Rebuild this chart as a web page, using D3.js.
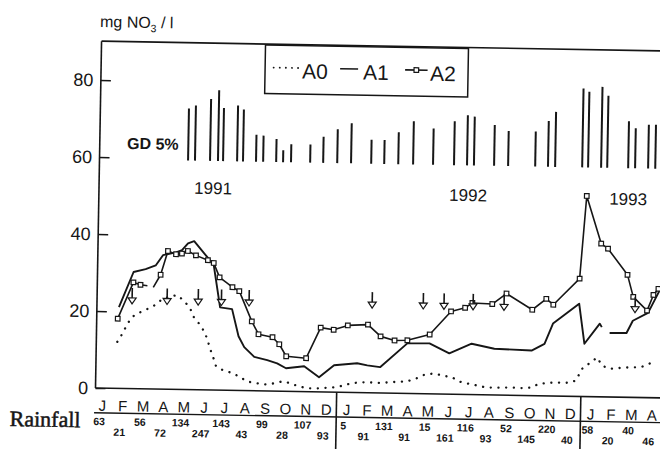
<!DOCTYPE html>
<html><head><meta charset="utf-8">
<script src="https://cdn.jsdelivr.net/npm/d3@7"></script>
<style>body{margin:0;background:#fff}svg{display:block}</style>
</head><body>
<svg id="c" width="660" height="449"></svg>
<script>
// ---------- data ----------
const months = ["J","F","M","A","M","J","J","A","S","O","N","D",
                "J","F","M","A","M","J","J","A","S","O","N","D",
                "J","F","M","A"];
const rainfall = [63,21,56,72,134,247,143,43,99,28,107,93,
                  5,91,131,91,15,161,116,93,52,145,220,40,
                  58,20,40,46];
const yTicks = [0,20,40,60,80];
const years = ["1991","1992","1993"];
const seriesNames = ["A0","A1","A2"];

// [month since Jan 1991, mg NO3/l]; null = gap
const a0 = [[1.18,12.1],[1.43,14.3],[1.63,16.5],[1.87,18.6],[2.21,19.7],[2.61,20.7],[3.0,21.8],[3.35,23.4],
  [3.74,24.1],[4.08,24.5],[4.43,23.0],[4.72,21.2],[4.92,18.8],[5.21,17.0],[5.46,15.0],[5.61,13.0],[5.75,10.6],
  [5.9,8.6],[6.05,6.2],[6.39,5.2],[6.79,4.6],[7.18,3.7],[7.58,2.4],[8.02,2.0],[8.51,1.7],[8.9,2.0],[9.34,2.6],
  [9.73,2.1],[10.13,1.3],[10.62,0.9],[11.01,0.9],[11.46,1.1],[11.95,1.3],[12.34,1.8],[12.73,2.4],[13.18,2.7],
  [13.57,2.7],[14.11,2.6],[14.55,2.8],[15.04,3.0],[15.43,3.1],[15.88,3.9],[16.32,5.0],[16.76,5.3],[17.2,4.8],
  [17.65,4.4],[18.04,3.3],[18.48,2.8],[18.87,2.4],[19.36,1.9],[19.85,1.9],[20.55,2.0],[21.18,1.9],[21.58,2.1],
  [21.92,3.1],[22.66,3.5],[23.4,3.5],[23.74,4.1],[24.04,7.2],[24.43,8.8],[24.77,10.2],[25.02,8.1],[25.41,7.3],
  [26.1,7.7],[26.94,7.9],[27.33,8.8],[27.67,9.6]];
const a1 = [[1.23,21.1],[1.92,30.3],[2.51,31.1],[3.0,32.1],[3.35,34.8],[3.99,35.6],[4.28,36.2],[4.57,38.0],
  [4.87,38.6],[5.56,34.3],[5.85,32.5],[6.2,21.5],[6.79,21.1],[7.13,14.1],[7.42,11.3],[7.92,8.8],[8.56,8.0],
  [9.05,7.2],[9.49,6.0],[10.38,6.6],[11.12,3.8],[11.85,7.0],[12.98,7.6],[13.48,7.1],[14.11,6.7],[15.43,13.0],
  [16.52,13.1],[17.5,10.6],[18.59,13.2],[19.71,12.0],[21.54,11.7],[22.17,13.5],[22.57,18.8],[23.84,24.1],
  [24.13,13.7],[24.87,19.0],[24.97,18.1],[25.15,null],[25.36,16.6],[26.19,16.7],[26.49,19.9],[27.23,22.0],[27.82,28.3]];
const a2 = [[1.18,18.1],[1.92,27.6],[2.27,27.0],[2.61,26.8],[2.75,null],[2.90,26.4],[3.25,29.7],[3.59,35.9],
  [3.99,35.1],[4.28,35.3],[4.57,36.0],[4.97,34.9],[5.56,33.7],[5.85,33.0],[6.15,29.3],[6.79,26.8],[7.13,25.8],
  [7.77,18.0],[8.11,14.7],[8.80,14.0],[9.14,12.2],[9.49,9.1],[10.47,8.7],[11.16,16.7],[11.80,16.2],[12.49,17.4],
  [13.48,17.7],[14.11,14.7],[14.80,13.7],[15.43,13.8],[16.52,15.4],[17.55,21.5],[18.24,22.5],[18.59,23.8],
  [19.57,23.6],[20.26,26.4],[21.54,22.3],[22.22,25.2],[22.57,23.7],[23.84,30.6],[24.12,52.1],[24.87,39.8],
  [25.21,38.5],[26.19,31.8],[26.49,26.1],[27.18,22.6],[27.48,26.7],[27.72,28.3]];
const a2Unmarked = [2.61, 2.90];
// GD 5%: [month, length]
const gd = [[4.50,13.5],[4.84,14.3],[5.58,16.1],[5.97,18.4],[6.22,13.8],[6.91,14.5],[7.2,13.5],[7.84,7.0],
  [8.19,6.8],[8.83,6.0],[9.17,3.1],[9.56,4.7],[10.5,4.7],[11.14,6.8],[11.83,8.8],[12.51,10.4],[13.5,6.2],
  [14.14,6.2],[14.83,8.3],[15.56,11.2],[16.54,9.4],[17.57,11.4],[18.21,13.0],[18.55,12.7],[19.54,10.6],
  [20.23,9.1],[21.56,9.1],[22.19,11.9],[22.54,14.3],[23.87,20.5],[24.16,19.7],[24.8,21.0],[25.1,18.7],
  [26.13,12.2],[26.47,10.4],[27.11,11.4],[27.46,11.4]];
const gdBase = 59.5;
// fertilizer arrows: month of application
const arrows = [1.87,3.59,5.12,6.26,7.62,13.67,16.18,17.2,18.63,20.15,26.59];
const arrowTip = 22;

// ---------- drawing ----------
const ink = "#161616";
const SANS = "'Liberation Sans', Arial, Helvetica, sans-serif";
const svg = d3.select("#c");
svg.append("rect").attr("width",660).attr("height",449).attr("fill","#fff");
const g = svg.append("g").attr("transform","rotate(1.0,95.5,388)");

const x = d3.scaleLinear().domain([0,28]).range([92.5, 92.5 + 28*20.35]);
const y = d3.scaleLinear().domain([0,80]).range([388,80]);
const xL = 95.5, xR = 740;

// frame
g.append("line").attr("x1",xL).attr("x2",xR).attr("y1",y(90.1)).attr("y2",y(90.1))
  .attr("stroke",ink).attr("stroke-width",1.6);
g.append("line").attr("x1",xL).attr("x2",xL).attr("y1",y(90.1)).attr("y2",y(0))
  .attr("stroke",ink).attr("stroke-width",1.6);
g.append("line").attr("x1",xL).attr("x2",xR).attr("y1",y(0)).attr("y2",y(0))
  .attr("stroke",ink).attr("stroke-width",1.6);

// y axis
const ya = g.append("g").attr("transform",`translate(${xL},0)`)
  .call(d3.axisLeft(y).tickValues(yTicks).tickSizeInner(-10).tickSizeOuter(0).tickPadding(7.5).tickFormat(d3.format("d")));
ya.select(".domain").remove();
ya.attr("font-size",18).attr("font-family",SANS);
ya.selectAll("text").attr("fill",ink);
ya.selectAll("line").attr("stroke",ink).attr("stroke-width",1.4);

// unit label
const ut = g.append("text").attr("x",93.7).attr("y",27).attr("font-size",16).attr("font-family",SANS).attr("fill",ink);
ut.append("tspan").text("mg NO");
ut.append("tspan").attr("dy",4).attr("font-size",10.5).text("3");
ut.append("tspan").attr("dy",-4).text(" / l");

// month row
g.selectAll(".mon").data(months).join("text").attr("class","mon")
  .attr("x",(d,i)=>x(i+0.5)).attr("y",410.8).attr("text-anchor","middle")
  .attr("font-size",15).attr("font-family",SANS).attr("fill",ink).text(d=>d);
g.append("line").attr("x1",xL-1).attr("x2",xR).attr("y1",412.8).attr("y2",412.8)
  .attr("stroke",ink).attr("stroke-width",1.4);
[12,24].forEach(m=>{
  g.append("line").attr("x1",x(m)).attr("x2",x(m)).attr("y1",y(0)).attr("y2",470)
    .attr("stroke",ink).attr("stroke-width",1.6);
});
g.selectAll(".rain").data(rainfall).join("text").attr("class","rain")
  .attr("x",(d,i)=>x(i+0.5)-3).attr("y",(d,i)=>i%2===0?425:435.5).attr("text-anchor","middle")
  .attr("font-size",10.5).attr("font-weight","bold").attr("font-family",SANS).attr("fill",ink).text(d=>d);
g.append("text").attr("x",10.2).attr("y",427.5).attr("font-size",22)
  .attr("stroke",ink).attr("stroke-width",0.5)
  .attr("font-family","'Liberation Serif', 'Times New Roman', serif").attr("fill",ink).text("Rainfall");

// GD bars
g.selectAll(".gd").data(gd).join("line").attr("class","gd")
  .attr("x1",d=>x(d[0])).attr("x2",d=>x(d[0])).attr("y1",y(gdBase)).attr("y2",d=>y(gdBase+d[1]))
  .attr("stroke",ink).attr("stroke-width",2);
g.append("text").attr("x",122.8).attr("y",148.4).attr("font-size",16).attr("font-weight","bold")
  .attr("font-family",SANS).attr("fill",ink).text("GD 5%");

// year labels
const yearPos = [[209.6,192],[464.7,194.5],[624.8,195.7]];
g.selectAll(".yr").data(years).join("text").attr("class","yr")
  .attr("x",(d,i)=>yearPos[i][0]).attr("y",(d,i)=>yearPos[i][1]).attr("text-anchor","middle")
  .attr("font-size",17).attr("font-family",SANS).attr("fill",ink).text(d=>d);

// series
const line = d3.line().defined(d=>d[1]!=null).x(d=>x(d[0])).y(d=>y(d[1]));
g.append("path").attr("d",line(a0)).attr("fill","none").attr("stroke",ink)
  .attr("stroke-width",2.3).attr("stroke-linecap","round").attr("stroke-dasharray","0.1,7.6");
g.append("path").attr("d",line(a1)).attr("fill","none").attr("stroke",ink)
  .attr("stroke-width",1.9).attr("stroke-linejoin","round");
g.append("path").attr("d",line(a2)).attr("fill","none").attr("stroke",ink)
  .attr("stroke-width",1.6).attr("stroke-linejoin","round");
g.selectAll(".mk").data(a2.filter(d=>d[1]!=null && !a2Unmarked.includes(d[0]))).join("rect").attr("class","mk")
  .attr("x",d=>x(d[0])-2.3).attr("y",d=>y(d[1])-2.3).attr("width",4.6).attr("height",4.6)
  .attr("fill","#fff").attr("stroke",ink).attr("stroke-width",1.2);

// arrows
arrows.forEach(m=>{
  const ax = x(m), ty = y(arrowTip);
  g.append("line").attr("x1",ax).attr("x2",ax).attr("y1",ty-16).attr("y2",ty-6)
    .attr("stroke",ink).attr("stroke-width",1.6);
  g.append("path").attr("d",`M${ax-4},${ty-6}L${ax+4},${ty-6}L${ax},${ty}Z`)
    .attr("fill","#fff").attr("stroke",ink).attr("stroke-width",1.2);
});

// legend
const lg = g.append("g");
lg.append("rect").attr("x",259.5).attr("y",42).attr("width",203).attr("height",48.5)
  .attr("fill","#fff").attr("stroke",ink).attr("stroke-width",1.5);
const legItems = [
  {name:seriesNames[0], lx1:268, lx2:293, tx:296.7, style:"dot"},
  {name:seriesNames[1], lx1:334.5, lx2:352.5, tx:357.6, style:"solid"},
  {name:seriesNames[2], lx1:399.5, lx2:422, tx:424.5, style:"mark"}
];
legItems.forEach(it=>{
  const ly = 64.5;
  const p = lg.append("line").attr("x1",it.lx1).attr("x2",it.lx2).attr("y1",ly).attr("y2",ly).attr("stroke",ink);
  if(it.style==="dot") p.attr("stroke-width",1.8).attr("stroke-linecap","round").attr("stroke-dasharray","0.1,6");
  else p.attr("stroke-width",1.6);
  if(it.style==="mark") lg.append("rect").attr("x",(it.lx1+it.lx2)/2-2.3).attr("y",ly-2.3).attr("width",4.6).attr("height",4.6)
    .attr("fill","#fff").attr("stroke",ink).attr("stroke-width",1.2);
  lg.append("text").attr("x",it.tx).attr("y",75).attr("font-size",21).attr("font-family",SANS).attr("fill",ink).text(it.name);
});
</script>
</body></html>
